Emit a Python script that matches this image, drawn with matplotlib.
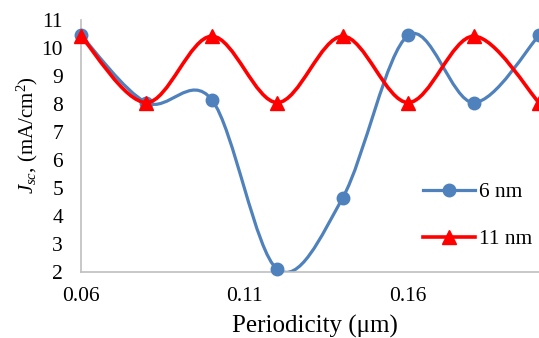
import numpy as np
import matplotlib
matplotlib.use("Agg")
import matplotlib.pyplot as plt
from matplotlib.path import Path
from matplotlib.patches import PathPatch
from matplotlib.lines import Line2D

plt.rcParams['font.family'] = ['Liberation Serif', 'DejaVu Serif']
plt.rcParams['mathtext.fontset'] = 'custom'
plt.rcParams['mathtext.rm'] = 'Liberation Serif'
plt.rcParams['mathtext.it'] = 'Liberation Serif:italic'

# data
period = [0.06, 0.08, 0.10, 0.12, 0.14, 0.16, 0.18, 0.20]
jsc_6nm = [10.45, 8.05, 8.15, 2.1, 4.65, 10.45, 8.05, 10.45]
jsc_11nm = [10.42, 8.05, 10.42, 8.05, 10.42, 8.05, 10.42, 8.05]
xticks = [0.06, 0.11, 0.16]

blue = '#4F81BD'
red = '#FF0000'
fs = 15.5


def smooth_path(x, y):
    # Excel-like smoothed line: cubic Bezier through the points
    p = np.column_stack([x, y])
    n = len(p)
    verts = [p[0]]
    codes = [Path.MOVETO]
    for i in range(n - 1):
        prev = p[i - 1] if i > 0 else p[i]
        nxt = p[i + 2] if i + 2 < n else p[i + 1]
        c1 = p[i] + (p[i + 1] - prev) / 6.0
        c2 = p[i + 1] - (nxt - p[i]) / 6.0
        verts += [c1, c2, p[i + 1]]
        codes += [Path.CURVE4] * 3
    return Path(verts, codes)


fig = plt.figure(figsize=(5.39, 3.38), dpi=100)
ax = fig.add_axes([81 / 539, 66 / 338, 458 / 539, 252 / 338])

ax.add_patch(PathPatch(smooth_path(period, jsc_6nm), fill=False, edgecolor=blue,
                       lw=2.3, zorder=2, capstyle='round'))
ax.plot(period, jsc_6nm, ls='none', marker='o', ms=9, color=blue, zorder=3, clip_on=False)
ax.add_patch(PathPatch(smooth_path(period, jsc_11nm), fill=False, edgecolor=red,
                       lw=2.6, zorder=4, capstyle='round'))
ax.plot(period, jsc_11nm, ls='none', marker='^', ms=10, color=red, zorder=5, clip_on=False)

ax.set_xlim(0.06, 0.20)
ax.set_ylim(2, 11)
ax.set_xticks(xticks)
ax.set_xticklabels(['%.2f' % t for t in xticks])
ax.set_yticks(range(2, 12))
ax.tick_params(length=0, labelsize=fs)
ax.tick_params(axis='y', pad=13)
ax.tick_params(axis='x', pad=11)
for s in ['top', 'right']:
    ax.spines[s].set_visible(False)
for s in ['left', 'bottom']:
    ax.spines[s].set_color('#BFBFBF')
    ax.spines[s].set_linewidth(1.2)

# axis titles
fig.text(315 / 539, 1 - 333 / 338, 'Periodicity (\u03bcm)', fontsize=18,
         ha='center', va='baseline')
fig.text(27 / 539, 1 - 135 / 338, r'$J_{sc}$, (mA/cm$^2$)', fontsize=15,
         rotation=90, ha='center', va='center')

handles = [Line2D([], [], color=blue, lw=2.3, marker='o', ms=9),
           Line2D([], [], color=red, lw=2.6, marker='^', ms=10)]
ax.legend(handles, ['6 nm', '11 nm'], loc='upper left', bbox_to_anchor=(423 / 539, 1 - 182 / 338),
          bbox_transform=fig.transFigure, frameon=False, fontsize=fs, handlelength=2.4,
          handletextpad=0.2, labelspacing=1.25, borderpad=0, borderaxespad=0)

fig.savefig('out.png', dpi=100)
